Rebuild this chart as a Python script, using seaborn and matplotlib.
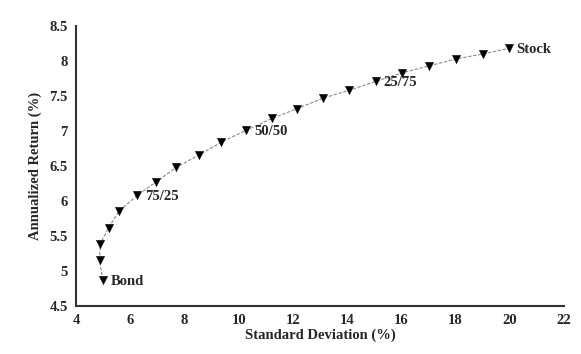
import matplotlib
matplotlib.use("Agg")
import matplotlib.pyplot as plt
import pandas as pd
import numpy as np
import seaborn as sns

# portfolio mixes from 100% bond to 100% stock, in 5% steps
std_dev = [4.99, 4.87, 4.90, 5.20, 5.58, 6.25, 6.95, 7.70, 8.55, 9.36, 10.28,
           11.24, 12.16, 13.12, 14.07, 15.07, 16.03, 17.02, 18.02, 19.01, 19.97]
ann_return = [4.87, 5.15, 5.39, 5.62, 5.85, 6.08, 6.27, 6.48, 6.66, 6.84, 7.01,
              7.18, 7.32, 7.47, 7.58, 7.71, 7.83, 7.93, 8.03, 8.10, 8.18]
labels = {0: "Bond", 5: "75/25", 10: "50/50", 15: "25/75", 20: "Stock"}

df = pd.DataFrame({"sd": std_dev, "ret": ann_return})

sns.set_style("white")
plt.rcParams["font.family"] = ["Liberation Serif", "DejaVu Serif"]
plt.rcParams["font.weight"] = "bold"

fig = plt.figure(figsize=(5.81, 3.54), dpi=100)
ax = fig.add_axes([0.1308, 0.1356, 0.8399, 0.791])

sns.lineplot(data=df, x="sd", y="ret", sort=False, color="#8a8a8a",
             linewidth=0.8, linestyle=(0, (3, 1.5)), ax=ax)
sns.scatterplot(data=df, x="sd", y="ret", marker="v", color="black",
                s=36, edgecolor="black", linewidth=0.3, zorder=3, ax=ax)

for i, txt in labels.items():
    ax.annotate(txt, (std_dev[i], ann_return[i]), xytext=(5.5, -1),
                textcoords="offset points", ha="left", va="center",
                fontsize=10.5, fontweight="bold")

ax.set_xlim(4, 22)
ax.set_ylim(4.5, 8.5)
ax.set_xticks(np.arange(4, 23, 2))
ax.set_yticks(np.arange(4.5, 8.6, 0.5))
ax.set_yticklabels(["4.5", "5", "5.5", "6", "6.5", "7", "7.5", "8", "8.5"])
ax.tick_params(length=0, labelsize=10.5, pad=6)
for lbl in ax.get_xticklabels() + ax.get_yticklabels():
    lbl.set_fontweight("bold")

ax.set_xlabel("Standard Deviation (%)", fontsize=10.5, fontweight="bold", labelpad=1)
ax.set_ylabel("Annualized Return (%)", fontsize=10.5, fontweight="bold", labelpad=5)

sns.despine(ax=ax)
for side in ["left", "bottom"]:
    ax.spines[side].set_color("#333333")
    ax.spines[side].set_linewidth(1.5)

fig.savefig("out.png", dpi=100)
